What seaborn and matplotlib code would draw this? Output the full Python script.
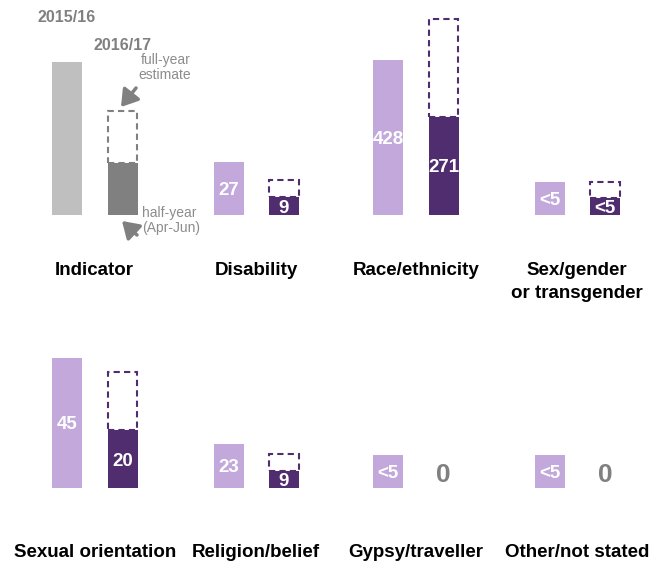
import matplotlib
matplotlib.use("Agg")
import matplotlib.pyplot as plt
import seaborn as sns

sns.set_style("white")
plt.rcParams["font.family"] = ["Liberation Sans", "DejaVu Sans"]

# ---------------- data ----------------
categories = ["Indicator", "Disability", "Race/ethnicity", "Sex/gender\nor transgender",
              "Sexual orientation", "Religion/belief", "Gypsy/traveller", "Other/not stated"]
years = ["2015/16", "2016/17"]
values_1516 = [100, 27, 428, 4, 45, 23, 4, 4]          # <5 shown as small placeholder
values_1617_half = [34, 9, 271, 2, 20, 9, 0, 0]
labels_1516 = ["", "27", "428", "<5", "45", "23", "<5", "<5"]
labels_1617 = ["", "9", "271", "<5", "20", "9", "0", "0"]
panel_ymax = [130.7, 101.9, 552, 24.2, 69.2, 104.5, 24.2, 24.2]  # each panel has its own scale

# ---------------- style ----------------
LIGHT = "#C3A8DC"
DARK = "#4F2D6E"
GREY_L = "#BFBFBF"
GREY_D = "#808080"
TXT_GREY = "#808080"

W, H = 665, 563
fig = plt.figure(figsize=(W / 100, H / 100), dpi=100)


def px_axes(left, top, width, height):
    return fig.add_axes([left / W, 1 - (top + height) / H, width / W, height / H])


col_c0 = [67, 228.5, 388, 549.5]
row_base = [215, 488]
label_base = [275, 557]
step = 55.5
bar_w = 30 / step
ax_h = 200

for i, cat in enumerate(categories):
    r, c = divmod(i, 4)
    ax = px_axes(col_c0[c] - 40, row_base[r] - ax_h, 80 + step, ax_h)
    if i == 0:
        cols = [GREY_L, GREY_D]
        dash_col = GREY_D
    else:
        cols = [LIGHT, DARK]
        dash_col = DARK
    v1, v2 = values_1516[i], values_1617_half[i]
    sns.barplot(x=years, y=[v1, v2], hue=years, palette=cols, width=bar_w,
                saturation=1, legend=False, ax=ax, zorder=1, linewidth=0)
    # full-year estimate (dashed outline) = twice the half-year count
    if v2 > 0:
        ax.bar(1, v2, bottom=v2, width=bar_w * 0.97, facecolor="none", edgecolor=dash_col,
               linestyle=(0, (3, 2)), linewidth=1.5, zorder=2)
    ax.set_xlim(-40 / step, 1 + 40 / step)
    ax.set_ylim(0, panel_ymax[i])
    ax.axis("off")
    # value labels
    if labels_1516[i]:
        ax.text(0, v1 / 2, labels_1516[i], ha="center", va="center_baseline",
                color="white", fontsize=13.5, fontweight="bold", zorder=3)
    if labels_1617[i]:
        if v2 > 0:
            ax.text(1, v2 / 2, labels_1617[i], ha="center", va="center_baseline",
                    color="white", fontsize=13.5, fontweight="bold", zorder=3)
        else:
            ax.annotate(labels_1617[i], (1, 0), xytext=(0, 4.5), textcoords="offset points",
                        ha="center", va="baseline", color=TXT_GREY, fontsize=19,
                        fontweight="bold", annotation_clip=False)
    # category label
    cx = col_c0[c] + step / 2
    for k, line in enumerate(cat.split("\n")):
        fig.text(cx / W, 1 - (label_base[r] + 23 * k) / H, line, ha="center",
                 va="baseline", fontsize=13.5, fontweight="bold", color="black")

# year headers and explanatory notes
fig.text(67 / W, 1 - 22 / H, years[0], ha="center", va="baseline", fontsize=11.5,
         fontweight="bold", color=TXT_GREY)
fig.text(122.5 / W, 1 - 50 / H, years[1], ha="center", va="baseline", fontsize=11.5,
         fontweight="bold", color=TXT_GREY)
fig.text(191 / W, 1 - 79 / H, "full-year\nestimate", ha="right", va="baseline",
         fontsize=10, color="#8C8C8C", linespacing=1.1)
fig.text(142 / W, 1 - 232 / H, "half-year\n(Apr-Jun)", ha="left", va="baseline",
         fontsize=10, color="#8C8C8C", linespacing=1.1)

arrow_kw = dict(arrowstyle="-|>,head_length=0.7,head_width=0.45", lw=2.5,
                color=GREY_D, mutation_scale=14, shrinkA=0, shrinkB=0)
fig.add_artist(matplotlib.patches.FancyArrowPatch((136, H - 88), (121, H - 107),
               transform=None, **arrow_kw))
fig.add_artist(matplotlib.patches.FancyArrowPatch((137, H - 235), (122, H - 221),
               transform=None, **arrow_kw))

fig.savefig("out.png", dpi=100)
